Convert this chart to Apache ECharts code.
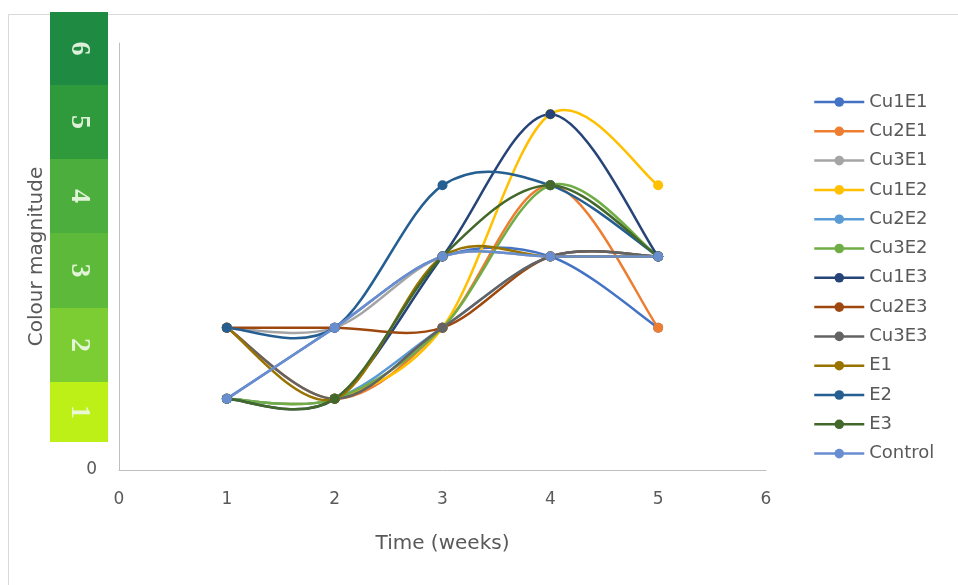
<!DOCTYPE html>
<html>
<head>
<meta charset="utf-8">
<script src="https://cdn.jsdelivr.net/npm/echarts@6/dist/echarts.min.js"></script>
<style>
  html, body { margin: 0; padding: 0; background: #ffffff; }
  #chart { width: 958px; height: 585px; }
</style>
</head>
<body>
<div id="chart"></div>
<script>
// Weeks on the x axis
const weeks = [1, 2, 3, 4, 5];

// Colour magnitude per treatment, weeks 1–5
const seriesNames = ['Cu1E1', 'Cu2E1', 'Cu3E1', 'Cu1E2', 'Cu2E2', 'Cu3E2', 'Cu1E3', 'Cu2E3', 'Cu3E3', 'E1', 'E2', 'E3', 'Control'];
const cu1e1 = [1, 2, 3, 3, 2];
const cu2e1 = [2, 1, 2, 4, 2];
const cu3e1 = [2, 2, 3, 3, 3];
const cu1e2 = [1, 1, 2, 5, 4];
const cu2e2 = [1, 1, 2, 3, 3];
const cu3e2 = [1, 1, 2, 4, 3];
const cu1e3 = [1, 1, 3, 5, 3];
const cu2e3 = [2, 2, 2, 3, 3];
const cu3e3 = [2, 1, 2, 3, 3];
const e1 = [2, 1, 3, 3, 3];
const e2 = [2, 2, 4, 4, 3];
const e3 = [1, 1, 3, 4, 3];
const control = [1, 2, 3, 3, 3];
const seriesValues = [cu1e1, cu2e1, cu3e1, cu1e2, cu2e2, cu3e2, cu1e3, cu2e3, cu3e3, e1, e2, e3, control];

const seriesColors = ['#4472C4', '#ED7D31', '#A5A5A5', '#FFC000', '#5B9BD5', '#70AD47',
                      '#264478', '#9E480E', '#636363', '#997300', '#255E91', '#43682B', '#698ED0'];

// Colour scale strip beside the y axis (bottom to top)
const scaleLabels = ['1', '2', '3', '4', '5', '6'];
const scaleColors = ['#bdf016', '#7ccc34', '#5db93a', '#4cae3c', '#2e9a3c', '#1f8a42'];

const textColor = '#595959';
const font = 'DejaVu Sans';

const chart = echarts.init(document.getElementById('chart'));

// Strip geometry: bands from the bottom up
const stripX = 50, stripW = 58;
const bandEdges = [442, 382, 308, 233, 159, 85, 12];
const stripGraphics = [];
scaleLabels.forEach((lab, i) => {
  const yBottom = bandEdges[i], yTop = bandEdges[i + 1];
  stripGraphics.push({
    type: 'rect',
    shape: { x: stripX, y: yTop, width: stripW, height: yBottom - yTop },
    style: { fill: scaleColors[i] },
    z: 10
  });
  stripGraphics.push({
    type: 'text',
    x: stripX + stripW / 2,
    y: (yTop + yBottom) / 2,
    rotation: -Math.PI / 2,
    style: {
      text: lab,
      fill: 'rgba(238,248,230,0.92)',
      font: 'bold 28px "Liberation Serif"',
      align: 'center',
      verticalAlign: 'middle'
    },
    z: 11
  });
});

// Smoothed curve through the points of one series, as cubic Bezier segments
// (neighbour-based tangents, one sixth of the chord between neighbours).
function makeCurveRenderer(values, color) {
  return function (params, api) {
    if (params.dataIndex !== 0) return null;
    const pts = weeks.map((w, j) => api.coord([w, values[j]]));
    const n = pts.length;
    const children = [];
    for (let i = 0; i < n - 1; i++) {
      const p0 = pts[Math.max(i - 1, 0)];
      const p1 = pts[i];
      const p2 = pts[i + 1];
      const p3 = pts[Math.min(i + 2, n - 1)];
      children.push({
        type: 'bezierCurve',
        shape: {
          x1: p1[0], y1: p1[1],
          cpx1: p1[0] + (p2[0] - p0[0]) / 6, cpy1: p1[1] + (p2[1] - p0[1]) / 6,
          cpx2: p2[0] - (p3[0] - p1[0]) / 6, cpy2: p2[1] - (p3[1] - p1[1]) / 6,
          x2: p2[0], y2: p2[1]
        },
        style: { stroke: color, lineWidth: 2.5, fill: null, lineCap: 'round' }
      });
    }
    return { type: 'group', children: children };
  };
}

const markerSeries = seriesNames.map((name, i) => ({
  name: name,
  type: 'line',
  symbol: 'circle',
  symbolSize: 10,
  color: seriesColors[i],
  lineStyle: { width: 2.5, color: seriesColors[i], opacity: 0 },
  itemStyle: { color: seriesColors[i] },
  z: 3 + i * 0.01,
  data: weeks.map((w, j) => [w, seriesValues[i][j]])
}));

const curveSeries = seriesNames.map((name, i) => ({
  name: name,
  type: 'custom',
  renderItem: makeCurveRenderer(seriesValues[i], seriesColors[i]),
  encode: { x: 0, y: 1 },
  z: 2 + i * 0.01,
  silent: true,
  data: weeks.map((w, j) => [w, seriesValues[i][j]])
}));

const option = {
  backgroundColor: '#ffffff',
  animation: false,
  graphic: [
    {
      type: 'rect',
      shape: { x: 8.5, y: 14.5, width: 1000, height: 700 },
      style: { fill: 'none', stroke: '#d9d9d9', lineWidth: 1 },
      z: 0
    }
  ].concat(stripGraphics),
  grid: { left: 119, right: 192, top: 43, bottom: 115, containLabel: false },
  legend: {
    orient: 'vertical',
    left: 808,
    top: 88,
    itemWidth: 50,
    itemHeight: 12,
    itemGap: 11.3,
    lineStyle: { opacity: 1, width: 2.5 },
    textStyle: { color: textColor, fontSize: 18, fontFamily: font, lineHeight: 18 },
    data: seriesNames
  },
  xAxis: {
    type: 'value',
    min: 0,
    max: 6,
    interval: 1,
    name: 'Time (weeks)',
    nameLocation: 'middle',
    nameGap: 64,
    nameTextStyle: { color: textColor, fontSize: 20, fontFamily: font },
    axisLine: { show: true, lineStyle: { color: '#bfbfbf', width: 1 } },
    axisTick: { show: false },
    splitLine: { show: false },
    axisLabel: { color: textColor, fontSize: 17, fontFamily: font, margin: 21 }
  },
  yAxis: {
    type: 'value',
    min: 0,
    max: 6,
    interval: 1,
    name: 'Colour magnitude',
    nameLocation: 'middle',
    nameGap: 72,
    nameTextStyle: { color: textColor, fontSize: 20, fontFamily: font },
    axisLine: { show: true, lineStyle: { color: '#bfbfbf', width: 1 } },
    axisTick: { show: false },
    splitLine: { show: false },
    axisLabel: {
      color: textColor, fontSize: 17, fontFamily: font, margin: 22,
      formatter: v => (v === 0 ? '0' : '')
    }
  },
  series: markerSeries.concat(curveSeries)
};

chart.setOption(option);
</script>
</body>
</html>
